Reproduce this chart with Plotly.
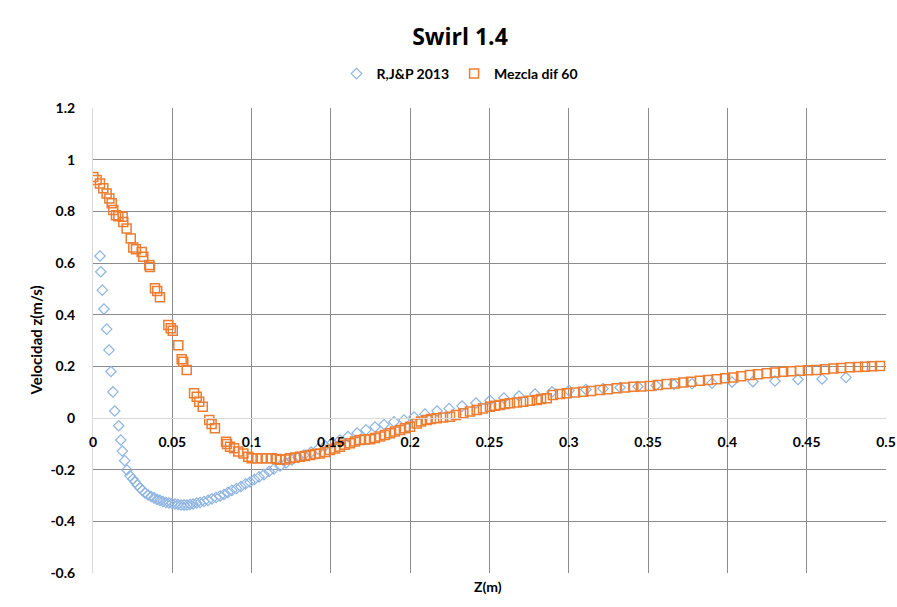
import plotly.graph_objects as go

# ---------------- data ----------------
rjp_x = [0.0044, 0.0049, 0.0059, 0.0069, 0.0086, 0.0101, 0.0113, 0.0126, 0.0137, 0.0162,
         0.0175, 0.0185, 0.0200, 0.0214, 0.0233, 0.0252, 0.0265, 0.0280, 0.0296, 0.0312,
         0.0328, 0.0347, 0.0366, 0.0385, 0.0404, 0.0422, 0.0441, 0.0460, 0.0479, 0.0498,
         0.0517, 0.0536, 0.0555, 0.0574, 0.0593, 0.0612, 0.0631, 0.0653, 0.0675, 0.0700,
         0.0725, 0.0750, 0.0776, 0.0801, 0.0826, 0.0851, 0.0876, 0.0905, 0.0933, 0.0962,
         0.0990, 0.1018, 0.1047, 0.1078, 0.1110, 0.1141, 0.1179, 0.1217, 0.1255, 0.1293,
         0.1330, 0.1375, 0.1419, 0.1463, 0.1507, 0.1557, 0.1608, 0.1665, 0.1721, 0.1778,
         0.1835, 0.1898, 0.1961, 0.2024, 0.2093, 0.2169, 0.2245, 0.2327, 0.2415, 0.2503,
         0.2591, 0.2686, 0.2787, 0.2894, 0.3001, 0.3108, 0.3216, 0.3323, 0.3436, 0.3550,
         0.3663, 0.3777, 0.3903, 0.4029, 0.4161, 0.4300, 0.4445, 0.4597, 0.4748]
rjp_y = [0.627, 0.566, 0.495, 0.422, 0.344, 0.263, 0.180, 0.101, 0.027, -0.030,
         -0.085, -0.128, -0.165, -0.201, -0.224, -0.236, -0.248, -0.259, -0.271, -0.280,
         -0.290, -0.298, -0.304, -0.309, -0.315, -0.319, -0.323, -0.327, -0.329, -0.331,
         -0.333, -0.335, -0.337, -0.337, -0.337, -0.335, -0.333, -0.329, -0.327, -0.323,
         -0.319, -0.313, -0.308, -0.302, -0.296, -0.288, -0.280, -0.273, -0.265, -0.255,
         -0.248, -0.238, -0.228, -0.219, -0.207, -0.197, -0.186, -0.174, -0.162, -0.153,
         -0.143, -0.132, -0.120, -0.108, -0.097, -0.085, -0.072, -0.058, -0.046, -0.035,
         -0.025, -0.015, -0.008, 0.004, 0.015, 0.027, 0.037, 0.046, 0.058, 0.068,
         0.077, 0.085, 0.093, 0.101, 0.106, 0.110, 0.114, 0.118, 0.122, 0.126,
         0.130, 0.133, 0.135, 0.139, 0.141, 0.143, 0.149, 0.151, 0.157]

mez_x = [0.0002, 0.0023, 0.0044, 0.0065, 0.0086, 0.0103, 0.0118, 0.0128, 0.0145, 0.0160,
         0.0187, 0.0191, 0.0212, 0.0238, 0.0254, 0.0271, 0.0307, 0.0317, 0.0355, 0.0359,
         0.0391, 0.0405, 0.0422, 0.0475, 0.0490, 0.0503, 0.0538, 0.0559, 0.0569, 0.0591,
         0.0637, 0.0654, 0.0670, 0.0692, 0.0733, 0.0748, 0.0769, 0.0839, 0.0845, 0.0864,
         0.0889, 0.0916, 0.0948, 0.0979, 0.1000, 0.1032, 0.1064, 0.1095, 0.1127, 0.1158,
         0.1179, 0.1211, 0.1242, 0.1274, 0.1305, 0.1337, 0.1368, 0.1400, 0.1431, 0.1463,
         0.1494, 0.1526, 0.1557, 0.1589, 0.1620, 0.1652, 0.1683, 0.1715, 0.1747, 0.1778,
         0.1810, 0.1841, 0.1873, 0.1904, 0.1936, 0.1967, 0.1999, 0.2041, 0.2068, 0.2104,
         0.2131, 0.2167, 0.2207, 0.2251, 0.2289, 0.2335, 0.2377, 0.2419, 0.2459, 0.2503,
         0.2535, 0.2566, 0.2598, 0.2629, 0.2673, 0.2713, 0.2755, 0.2798, 0.2825, 0.2861,
         0.2900, 0.2945, 0.2987, 0.3039, 0.3091, 0.3140, 0.3197, 0.3247, 0.3302, 0.3354,
         0.3407, 0.3455, 0.3512, 0.3562, 0.3617, 0.3670, 0.3722, 0.3770, 0.3827, 0.3878,
         0.3933, 0.3985, 0.4037, 0.4086, 0.4142, 0.4193, 0.4248, 0.4300, 0.4352, 0.4401,
         0.4458, 0.4508, 0.4563, 0.4615, 0.4668, 0.4716, 0.4773, 0.4823, 0.4868, 0.4912,
         0.4962]
mez_y = [0.933, 0.921, 0.908, 0.889, 0.869, 0.850, 0.831, 0.805, 0.785, 0.781,
         0.779, 0.759, 0.734, 0.695, 0.660, 0.653, 0.643, 0.624, 0.592, 0.585,
         0.502, 0.492, 0.467, 0.360, 0.347, 0.338, 0.282, 0.227, 0.218, 0.186,
         0.096, 0.082, 0.063, 0.044, -0.008, -0.023, -0.040, -0.092, -0.101, -0.111,
         -0.117, -0.130, -0.137, -0.150, -0.156, -0.156, -0.156, -0.156, -0.156, -0.159,
         -0.162, -0.161, -0.156, -0.153, -0.150, -0.147, -0.143, -0.139, -0.137, -0.132,
         -0.124, -0.118, -0.111, -0.104, -0.098, -0.091, -0.085, -0.083, -0.082, -0.077,
         -0.072, -0.066, -0.059, -0.052, -0.046, -0.040, -0.034, -0.021, -0.014, -0.008,
         -0.004, -0.001, 0.002, 0.005, 0.012, 0.018, 0.025, 0.031, 0.037, 0.044,
         0.047, 0.050, 0.054, 0.057, 0.060, 0.063, 0.067, 0.070, 0.074, 0.076,
         0.089, 0.093, 0.096, 0.099, 0.102, 0.105, 0.108, 0.111, 0.115, 0.118,
         0.121, 0.122, 0.124, 0.128, 0.132, 0.134, 0.137, 0.140, 0.144, 0.147,
         0.150, 0.154, 0.157, 0.162, 0.166, 0.169, 0.173, 0.176, 0.179, 0.181,
         0.183, 0.185, 0.186, 0.189, 0.192, 0.194, 0.196, 0.197, 0.198, 0.200,
         0.201]

x_ticks = [0, 0.05, 0.1, 0.15, 0.2, 0.25, 0.3, 0.35, 0.4, 0.45, 0.5]
x_tick_labels = ["0", "0.05", "0.1", "0.15", "0.2", "0.25", "0.3", "0.35", "0.4", "0.45", "0.5"]
y_ticks = [-0.6, -0.4, -0.2, 0, 0.2, 0.4, 0.6, 0.8, 1, 1.2]
y_tick_labels = ["-0.6", "-0.4", "-0.2", "0", "0.2", "0.4", "0.6", "0.8", "1", "1.2"]

FONT = "Lato"
GRID = "#8c8c8c"
LIGHT = "#d9d9d9"

fig = go.Figure()
fig.add_trace(go.Scatter(
    x=rjp_x, y=rjp_y, mode="markers", name="R,J&P 2013",
    marker=dict(symbol="diamond-open", size=8, color="#8db4e2",
                line=dict(width=1.2, color="#8db4e2")),
))
fig.add_trace(go.Scatter(
    x=mez_x, y=mez_y, mode="markers", name="Mezcla dif 60",
    marker=dict(symbol="square-open", size=9, color="#ed7d31",
                line=dict(width=1.5, color="#ed7d31")),
))

fig.update_layout(
    width=897, height=607,
    margin=dict(l=93, r=11, t=108, b=34, autoexpand=False),
    paper_bgcolor="white", plot_bgcolor="white",
    font=dict(family=FONT, color="black"),
    title=dict(text="<b>Swirl 1.4</b>", x=460 / 897, xref="container", xanchor="center",
               y=1 - 37 / 607, yref="container", yanchor="middle",
               font=dict(family="Open Sans", size=23, color="black")),
    legend=dict(orientation="h", xref="container", yref="container",
                x=460 / 897, xanchor="center", y=1 - 74 / 607, yanchor="middle",
                font=dict(family=FONT, size=14, color="black", weight="bold"),
                itemwidth=30, tracegroupgap=0),
    showlegend=True,
)
fig.update_xaxes(
    range=[0, 0.5], tickvals=x_ticks, ticktext=x_tick_labels, automargin=False,
    showgrid=True, gridcolor=GRID, gridwidth=1,
    zeroline=False, showline=True, linecolor=LIGHT, linewidth=1,
    anchor="free", position=1 / 3,
    ticks="outside", ticklen=11, tickcolor="rgba(0,0,0,0)",
    tickfont=dict(family=FONT, size=14, color="black", weight="bold"),
)
fig.update_yaxes(
    range=[-0.6, 1.2], tickvals=y_ticks, ticktext=y_tick_labels, automargin=False,
    showgrid=True, gridcolor=GRID, gridwidth=1,
    zeroline=True, zerolinecolor=LIGHT, zerolinewidth=1,
    showline=True, linecolor=LIGHT, linewidth=1,
    ticks="outside", ticklen=14, tickcolor="rgba(0,0,0,0)",
    tickfont=dict(family=FONT, size=14, color="black", weight="bold"),
)
fig.add_annotation(text="<b>Velocidad z(m/s)</b>", xref="paper", yref="paper",
                   x=(35 - 93) / 793, y=0.5, textangle=-90, showarrow=False,
                   xanchor="center", yanchor="middle",
                   font=dict(family=FONT, size=15, color="black"))
fig.add_annotation(text="<b>Z(m)</b>", xref="paper", yref="paper",
                   x=(488 - 93) / 793, y=-(586 - 573) / 465, showarrow=False,
                   xanchor="center", yanchor="middle",
                   font=dict(family=FONT, size=14, color="black"))

fig.write_html("out.html")
